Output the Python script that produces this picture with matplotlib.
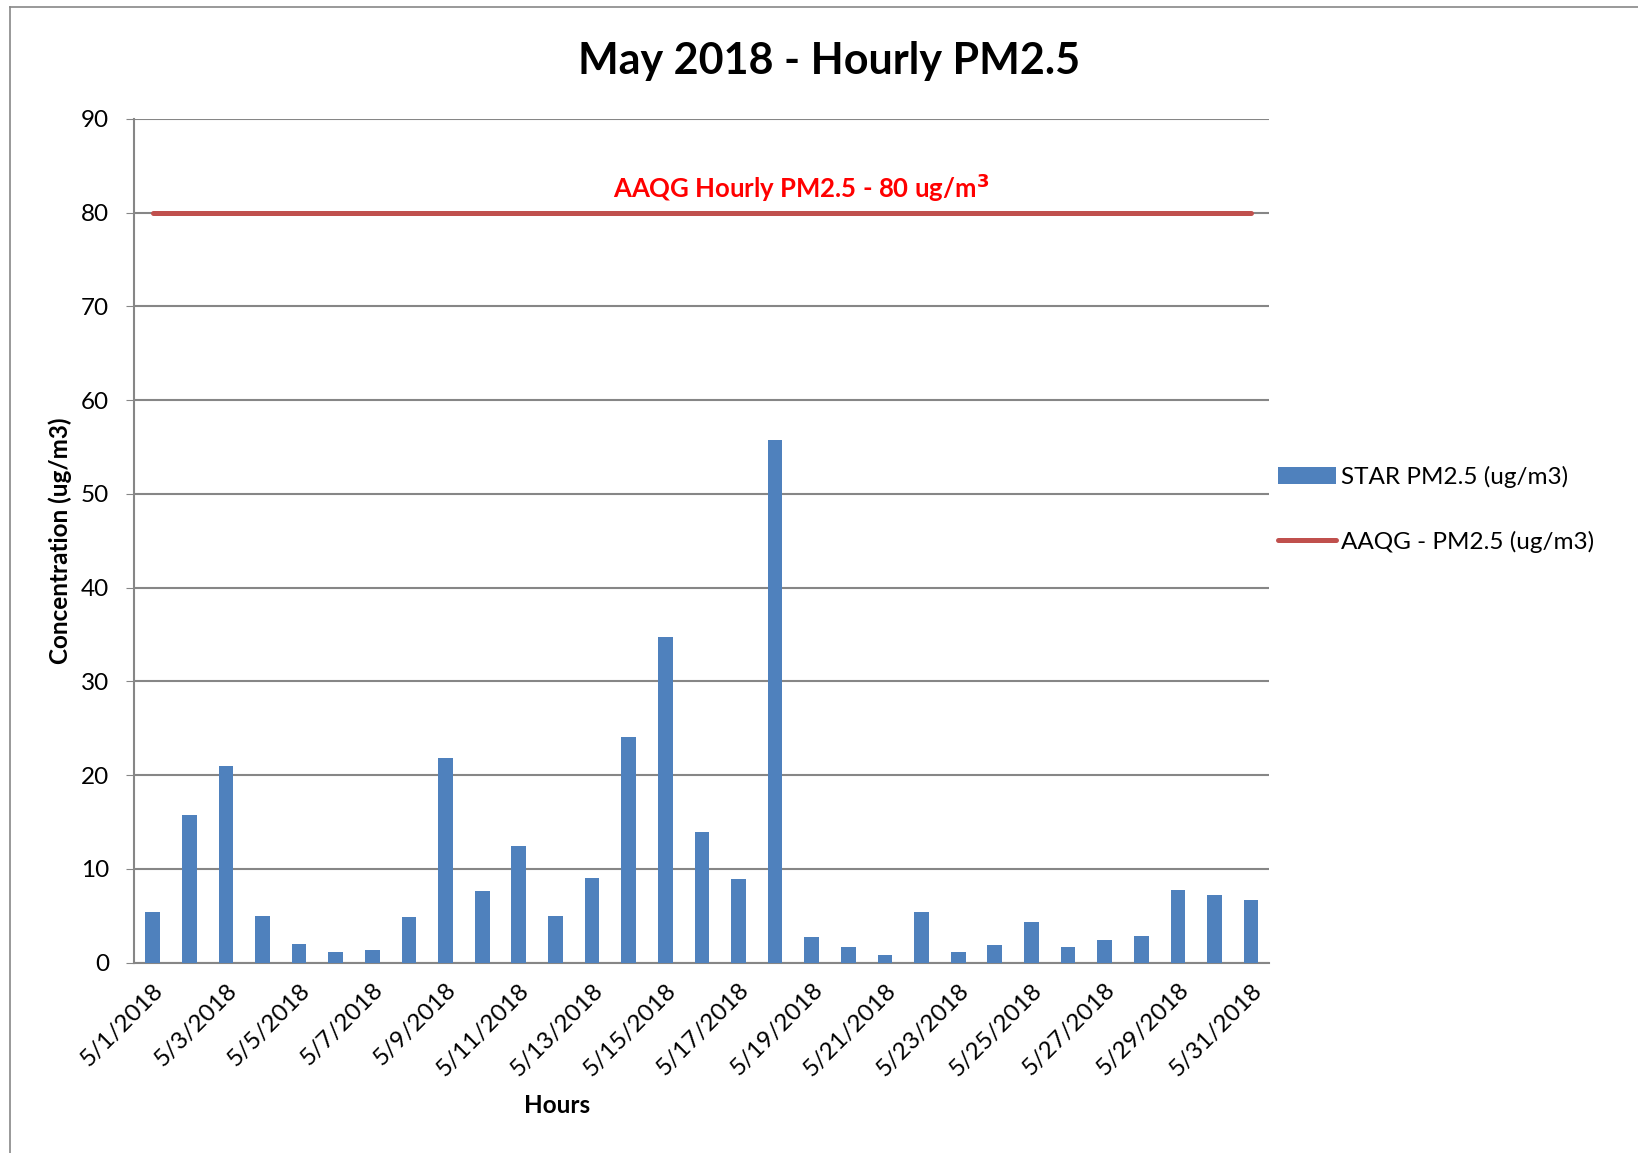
import numpy as np
import matplotlib
matplotlib.use('Agg')
from matplotlib import pyplot as plt
from matplotlib.lines import Line2D

# daily values
days = ['5/{}/2018'.format(d) for d in range(1, 32)]
star_pm25 = [5.45, 15.8, 21.0, 4.95, 2.0, 1.1, 1.37, 4.87, 21.8, 7.7,
             12.5, 5.0, 9.0, 24.05, 34.7, 13.9, 8.9, 55.7, 2.74, 1.64,
             0.8, 5.42, 1.1, 1.87, 4.35, 1.64, 2.4, 2.9, 7.75, 7.25, 6.68]
aaqg_limit = [80] * len(days)
y_ticks = [0, 10, 20, 30, 40, 50, 60, 70, 80, 90]

plt.rcParams['font.family'] = ['Lato', 'DejaVu Sans']

fig = plt.figure(figsize=(16.38, 11.53), dpi=100)
ax = fig.add_axes([0.082, 0.165, 0.693, 0.732])

x = np.arange(len(days))
bars = ax.bar(x, star_pm25, width=0.4, color='#4F81BD', label='STAR PM2.5 (ug/m3)', zorder=3)
line, = ax.plot(x, aaqg_limit, color='#C0504D', linewidth=3.6, solid_capstyle='round',
                label='AAQG - PM2.5 (ug/m3)', zorder=4)

ax.set_xlim(-0.5, len(days) - 0.5)
ax.set_ylim(0, 90)
ax.set_yticks(y_ticks)
ax.tick_params(axis='y', labelsize=17.5, length=6, color='#868686', pad=12)
ax.set_xticks(x[::2])
ax.set_xticklabels(days[::2], rotation=45, ha='right', rotation_mode='anchor', fontsize=17.5)
ax.tick_params(axis='x', length=0, pad=12)

ax.grid(axis='y', color='#868686', linewidth=1.5, zorder=0)
for side in ['top', 'right']:
    ax.spines[side].set_visible(False)
for side in ['left', 'bottom']:
    ax.spines[side].set_color('#868686')
    ax.spines[side].set_linewidth(1.5)

ax.text(17.7, 82.6, 'AAQG Hourly PM2.5 - 80 ug/m$^\\mathbf{3}$', color='#FF0000',
        fontsize=18.5, fontweight='bold', ha='center', va='center')

fig.text(0.506, 0.947, 'May 2018 - Hourly PM2.5', fontsize=31, fontweight='bold',
         ha='center', va='center')
fig.text(0.037, 0.531, 'Concentration (ug/m3)', fontsize=17.5, fontweight='bold',
         rotation=90, ha='center', va='center')
fig.text(0.34, 0.041, 'Hours', fontsize=17.5, fontweight='bold', ha='center', va='center')

ax.legend([bars, line], ['STAR PM2.5 (ug/m3)', 'AAQG - PM2.5 (ug/m3)'],
          loc='center left', bbox_to_anchor=(0.988, 0.537), frameon=False, fontsize=17.5,
          handlelength=2.4, handletextpad=0.2, labelspacing=1.75)

# chart border (Excel chart area)
fig.add_artist(Line2D([0.0064, 0.0064], [0, 0.994], color='#888888', linewidth=1.2))
fig.add_artist(Line2D([0.0064, 1], [0.994, 0.994], color='#888888', linewidth=1.2))

fig.savefig('out.png', dpi=100)
